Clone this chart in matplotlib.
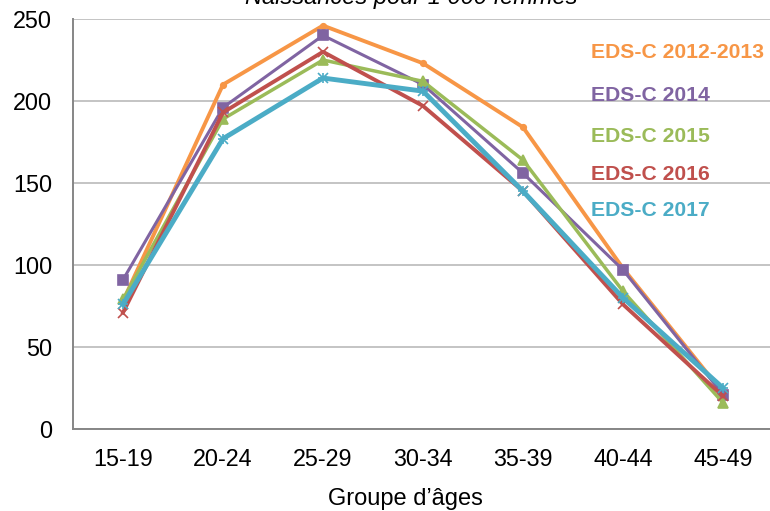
import matplotlib
matplotlib.use("Agg")
import matplotlib.pyplot as plt

# groupes d'ages et taux (naissances pour 1 000 femmes)
ages = ["15-19", "20-24", "25-29", "30-34", "35-39", "40-44", "45-49"]
eds_2012_2013 = [78, 210, 246, 223, 184, 98, 22]
eds_2014 = [91, 196, 240, 210, 156, 97, 21]
eds_2015 = [79, 189, 225, 212, 164, 84, 16]
eds_2016 = [71, 193, 230, 197, 145, 76, 20]
eds_2017 = [76, 177, 214, 206, 145, 80, 25]
series_names = ["EDS-C 2012-2013", "EDS-C 2014", "EDS-C 2015", "EDS-C 2016", "EDS-C 2017"]
yticks = [0, 50, 100, 150, 200, 250]

plt.rcParams['font.family'] = ['Liberation Sans', 'DejaVu Sans']

W, H = 770, 511
fig = plt.figure(figsize=(W / 100, H / 100), dpi=100)
ax = fig.add_axes([73 / W, 82 / H, 700 / W, 410 / H])

x = range(len(ages))
styles = [
    ("#F79646", "o", 2.8, 4),
    ("#8064A2", "s", 2.2, 7),
    ("#9BBB59", "^", 2.5, 7),
    ("#C0504D", "x", 2.8, 7),
    ("#4BACC6", "x", 3.5, 7),
]
data = [eds_2012_2013, eds_2014, eds_2015, eds_2016, eds_2017]
# ordre de dessin : orange derriere
for vals, (c, m, lw, ms) in zip(data, styles):
    ax.plot(x, vals, color=c, lw=lw, marker=m, ms=ms, mew=1.2, clip_on=False)
ax.plot(x, eds_2017, color="#4BACC6", lw=0, marker="+", ms=7, mew=1.2)

ax.set_xlim(-0.5, 6.5)
ax.set_ylim(0, 250)
ax.set_yticks(yticks)
ax.set_xticks(list(x))
ax.set_xticklabels(ages)
ax.tick_params(axis="both", length=0, labelsize=16.8, colors="black")
ax.tick_params(axis="y", pad=15)
ax.tick_params(axis="x", pad=14)
ax.grid(axis="y", color="#bfbfbf", lw=1.3)
ax.set_axisbelow(True)
for s in ["top", "right"]:
    ax.spines[s].set_visible(False)
for s in ["left", "bottom"]:
    ax.spines[s].set_color("#868686")
    ax.spines[s].set_linewidth(1.4)

fig.text(405 / W, 1 - 505 / H, "Groupe d\u2019âges", ha="center", va="baseline", fontsize=17)
fig.text(411 / W, 1 - 4 / H, "Naissances pour 1 000 femmes", ha="center", va="baseline",
         fontsize=17, style="italic")

label_y = [53, 95, 137, 174, 210]
for name, (c, _, _, _), ly in zip(series_names, styles, label_y):
    fig.text(591 / W, 1 - ly / H, name, color=c, fontsize=15.2, fontweight="bold",
             ha="left", va="center")

fig.savefig("out.png", dpi=100)
